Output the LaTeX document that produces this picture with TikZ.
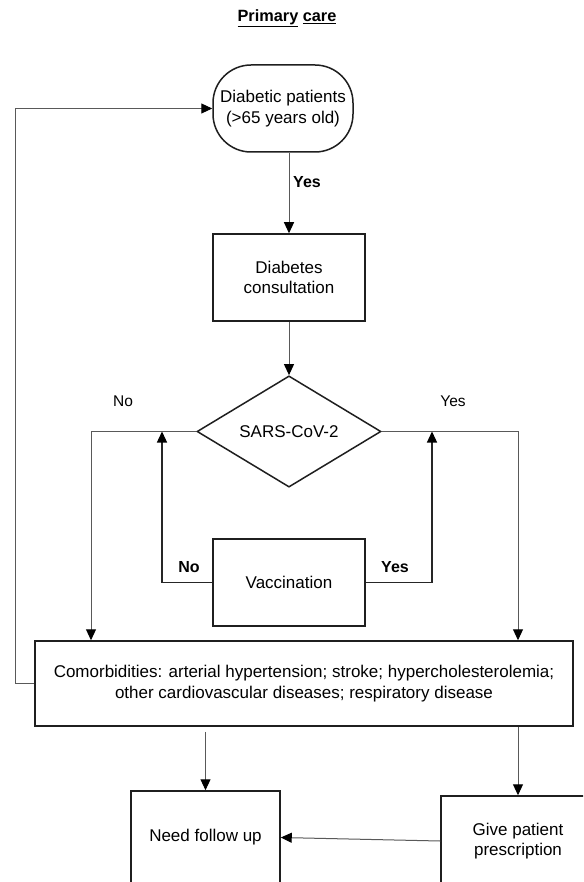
\documentclass[tikz,border=0pt]{standalone}
\usepackage{fontspec}
\setmainfont{Liberation Sans}
\usetikzlibrary{arrows.meta,shapes.geometric}
\begin{document}
\begin{tikzpicture}[x=1pt,y=-1pt,
  box/.style={draw=black!88, line width=1.5pt, align=center, inner sep=0pt,
    font=\fontsize{17}{20.5}\selectfont},
  conn/.style={draw=black!65, line width=1pt},
  arr/.style={conn, -{Triangle[length=11pt,width=10pt,color=black]}},
  lbl/.style={font=\fontsize{15.5}{18}\selectfont, inner sep=0pt},
  blbl/.style={font=\fontsize{16}{18}\selectfont\bfseries, inner sep=0pt}]
\useasboundingbox (0,0) rectangle (583,882);
\clip (0,0) rectangle (583,882);
\fill[white] (0,0) rectangle (583,882);

\node[inner sep=0pt] (title) at (287,18) {\fontsize{16.3}{19}\selectfont\bfseries\underline{Primary} \underline{care}};

\node[box, rounded corners=38pt, minimum width=140pt, minimum height=87pt] (pat) at (283,108.5) {Diabetic patients\\(>65 years old)};
\node[box, minimum width=152pt, minimum height=87pt] (dc) at (289,277.5) {Diabetes\\consultation};
\node[box, diamond, minimum width=184pt, minimum height=105pt] (sars) at (289,431.5) {SARS-CoV-2};
\node[box, minimum width=152pt, minimum height=87pt] (vac) at (289,582.5) {Vaccination};
\node[box, minimum width=538pt, minimum height=85pt] (com) at (304,683.5) {Comorbidities: arterial hypertension; stroke; hypercholesterolemia;\\other cardiovascular diseases; respiratory disease};
\node[box, minimum width=149pt, minimum height=93pt] (nf) at (205.5,837.5) {Need follow up};
\node[box, minimum width=154pt, minimum height=90pt] (gp) at (518,841) {Give patient\\prescription};

\coordinate (lp) at (15,0);
\coordinate (xl) at (91,0);
\coordinate (xr) at (518,0);
\coordinate (vl) at (162,0);
\coordinate (vr) at (432,0);

\draw[arr] (dc.north |- pat.south) -- (dc.north);
\draw[arr] (dc.south) -- (sars.north);
\draw[arr] (sars.west) -| (xl |- com.north);
\draw[arr] (sars.east) -| (xr |- com.north);
\draw[arr, draw=black!85, line width=1.3pt] (vac.west) -| (vl |- sars.west);
\draw[arr, draw=black!85, line width=1.3pt] (vac.east) -| (vr |- sars.east);
\draw[arr] (com.west) -- (lp |- com.west) |- (pat.west);
\draw[arr, shorten <=5pt] (nf.north |- com.south) -- (nf.north);
\draw[arr] (gp.north |- com.south) -- (gp.north);
\draw[arr] (gp.west) -- (nf.east);

\node[blbl] (y1) at (307,182) {Yes};
\node[lbl] (n2) at (123,401) {No};
\node[lbl] (y2) at (453,401) {Yes};
\node[blbl] (n3) at (189,567) {No};
\node[blbl] (y3) at (395,567) {Yes};
\end{tikzpicture}
\end{document}
